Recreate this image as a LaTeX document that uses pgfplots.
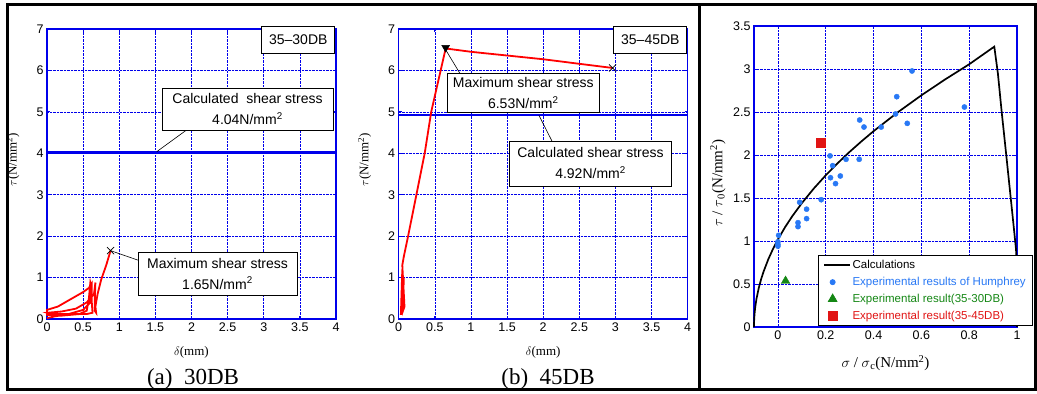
\documentclass[border=0pt]{standalone}
\usepackage{pgfplots}
\pgfplotsset{compat=1.18}
\usepackage{fontspec}
\setmainfont{Liberation Serif}
\newfontfamily\arial{Liberation Sans}
\definecolor{mblue}{RGB}{0,0,235}
\definecolor{hblue}{RGB}{40,120,245}
\definecolor{hgreen}{RGB}{20,135,20}
\definecolor{hred}{RGB}{225,20,20}
\pgfplotsset{
  mystyle/.style={
    scale only axis, anchor=south west,
    axis line style={mblue, line width=1.1pt},
    tick style={mblue, line width=0.8pt},
    major tick length=3pt,
    grid=major,
    grid style={mblue, densely dotted, line width=0.6pt},
    tick label style={font=\arial\fontsize{12.5}{12.5}\selectfont, text=black},
    /pgf/number format/assume math mode=true,
    clip=false,
  },
  longline/.style={legend image code/.code={\draw[##1] (0cm,0cm) -- (0.9cm,0cm);}},
}
\tikzset{
  boxnode/.style={draw=black, fill=white, line width=0.7pt, align=center, font=\arial\fontsize{14}{21}\selectfont, inner sep=1pt},
}
\begin{document}
\begin{tikzpicture}
\path (0pt,0pt) rectangle (1037pt,392pt);
% ---------------- (a) 30DB ----------------
\begin{axis}[mystyle, at={(47pt,73pt)}, width=289pt, height=290pt,
  xmin=0, xmax=4, ymin=0, ymax=7,
  xtick={0,0.5,1,1.5,2,2.5,3,3.5,4}, ytick={0,1,2,3,4,5,6,7},
  xlabel={$\delta$(mm)}, ylabel={$\tau$(N/mm\textsuperscript{2})},
  x label style={at={(axis description cs:0.5,-0.114)}, anchor=center, font=\fontsize{13}{13}\selectfont},
  y label style={at={(axis description cs:-0.118,0.55)}, anchor=center, font=\fontsize{13}{13}\selectfont},
]
\addplot[mblue, line width=2.2pt] coordinates {(0,4.02) (4,4.02)};
\addplot[red, line width=1.8pt] coordinates {
(0,0.02) (0.1,0.06) (0.3,0.12) (0.5,0.22) (0.6,0.4) (0.62,0.75) (0.6,0.88) (0.58,0.5) (0.55,0.2) (0.45,0.12) (0.2,0.08) (0,0.1)
(0,0.22) (0.15,0.3) (0.35,0.5) (0.5,0.65) (0.58,0.75) (0.62,0.86) (0.62,0.4) (0.63,0.15) (0.55,0.12) (0.3,0.12) (0.05,0.12) (0,0.15)
(0.2,0.18) (0.4,0.25) (0.55,0.4) (0.65,0.6) (0.67,0.88) (0.66,0.4) (0.66,0.2) (0.68,0.15) (0.67,0.3) (0.7,0.6) (0.75,0.95) (0.82,1.3) (0.88,1.65)};
\addplot[only marks, mark=x, mark size=5pt, black, mark options={line width=0.7pt}] coordinates {(0.88,1.65)};
\draw[black, line width=0.6pt] (axis cs:1.52,4.04) -- (axis cs:1.93,4.56);
\draw[black, line width=0.6pt] (axis cs:0.88,1.65) -- (axis cs:1.26,1.42);
\node[boxnode, minimum width=73pt, minimum height=27pt] at (axis cs:3.478,6.75) {35\textendash30DB};
\node[boxnode, minimum width=171pt, minimum height=42pt] at (axis cs:2.775,5.07) {Calculated\ \ shear stress\\4.04N/mm\textsuperscript{2}};
\node[boxnode, minimum width=159pt, minimum height=43pt] at (axis cs:2.36,1.098) {Maximum shear stress\\1.65N/mm\textsuperscript{2}};
\end{axis}
% ---------------- (b) 45DB ----------------
\begin{axis}[mystyle, at={(398.7pt,73pt)}, width=289pt, height=290pt,
  xmin=0, xmax=4, ymin=0, ymax=7,
  xtick={0,0.5,1,1.5,2,2.5,3,3.5,4}, ytick={0,1,2,3,4,5,6,7},
  xlabel={$\delta$(mm)}, ylabel={$\tau$(N/mm\textsuperscript{2})},
  x label style={at={(axis description cs:0.5,-0.114)}, anchor=center, font=\fontsize{13}{13}\selectfont},
  y label style={at={(axis description cs:-0.118,0.55)}, anchor=center, font=\fontsize{13}{13}\selectfont},
]
\addplot[mblue, line width=2.2pt] coordinates {(0,4.92) (4,4.92)};
\addplot[red, line width=1.8pt] coordinates {
(0.03,0.1) (0.05,1.2) (0.04,0.3) (0.07,1.0) (0.06,0.2) (0.08,0.3) (0.05,1.3) (0.07,1.5) (0.13,2.0) (0.36,4.0) (0.45,5.0) (0.65,6.53)
(1.0,6.45) (1.22,6.41) (1.5,6.36) (2.0,6.27) (2.5,6.16) (2.96,6.06)};
\addplot[only marks, mark=triangle*, mark size=4.5pt, black, mark options={rotate=180}] coordinates {(0.65,6.55)};
\addplot[only marks, mark=x, mark size=5pt, black, mark options={line width=0.7pt}] coordinates {(2.96,6.06)};
\draw[black, line width=0.6pt] (axis cs:0.65,6.5) -- (axis cs:0.85,5.92);
\draw[black, line width=0.6pt] (axis cs:1.94,4.92) -- (axis cs:2.12,4.30);
\node[boxnode, minimum width=73pt, minimum height=27pt] at (axis cs:3.483,6.75) {35\textendash45DB};
\node[boxnode, minimum width=152pt, minimum height=39pt] at (axis cs:1.725,5.447) {Maximum shear stress\\6.53N/mm\textsuperscript{2}};
\node[boxnode, minimum width=162pt, minimum height=45pt] at (axis cs:2.655,3.757) {Calculated shear stress\\4.92N/mm\textsuperscript{2}};
\end{axis}
% ---------------- right panel ----------------
\begin{axis}[mystyle, at={(754pt,65pt)}, width=263pt, height=301pt,
  xmin=-0.1, xmax=1, ymin=0, ymax=3.5,
  xtick={0,0.2,0.4,0.6,0.8,1}, ytick={0,0.5,1,1.5,2,2.5,3,3.5},
  xlabel={$\sigma$ / $\sigma$\textsubscript{c}(N/mm\textsuperscript{2})},
  ylabel={$\tau$ / $\tau$\textsubscript{0}(N/mm\textsuperscript{2})},
  x label style={at={(axis description cs:0.5,-0.12)}, anchor=center, font=\fontsize{15}{15}\selectfont},
  y label style={at={(axis description cs:-0.137,0.478)}, anchor=center, font=\fontsize{15}{15}\selectfont},
  legend style={at={(axis description cs:0.243,0.003)}, anchor=south west, draw=black, fill=white, line width=0.7pt,
     font=\arial\fontsize{11.5}{13}\selectfont, row sep=3pt, inner xsep=5pt, inner ysep=3pt},
  legend cell align=left,
]
\addplot[black, line width=1.7pt, longline] coordinates {
(-0.1,0) (-0.0995,0.072) (-0.098,0.144) (-0.095,0.228) (-0.09,0.322) (-0.08,0.455) (-0.07,0.558) (-0.06,0.644) (-0.04,0.789) (-0.02,0.911)
(0,1.018) (0.03,1.161) (0.06,1.288) (0.1,1.44) (0.15,1.61) (0.2,1.764) (0.25,1.905) (0.3,2.037) (0.35,2.16) (0.4,2.277) (0.5,2.494)
(0.6,2.694) (0.7,2.88) (0.8,3.055) (0.905,3.26) (0.92,2.95) (0.936,2.5) (0.955,2.0) (0.97,1.6) (0.985,1.2) (0.996,0.9) (1.0,0.6) (1.0,0)};
\addlegendentry{Calculations}
\addplot[only marks, mark=*, mark size=2.6pt, hblue] coordinates {
(0.003,1.066) (0,0.99) (0,0.94) (0,0.96) (0.084,1.213) (0.084,1.167) (0.091,1.45) (0.12,1.37) (0.12,1.26) (0.181,1.48)
(0.218,1.99) (0.229,1.876) (0.22,1.736) (0.241,1.667) (0.261,1.756) (0.285,1.95) (0.34,1.95) (0.342,2.407) (0.36,2.325)
(0.432,2.325) (0.492,2.477) (0.497,2.678) (0.541,2.368) (0.561,2.977) (0.78,2.558)};
\addlegendentry{\textcolor{hblue}{Experimental results of Humphrey}}
\addplot[only marks, mark=triangle*, mark size=5pt, hgreen] coordinates {(0.032,0.535)};
\addlegendentry{\textcolor{hgreen}{Experimental result(35-30DB)}}
\addplot[only marks, mark=square*, mark size=4.5pt, hred] coordinates {(0.181,2.143)};
\addlegendentry{\textcolor{hred}{Experimental result(35-45DB)}}
\end{axis}
% captions and frame
\node[anchor=base, font=\fontsize{23}{23}\selectfont] at (193pt,7pt) {(a)\ \ 30DB};
\node[anchor=base, font=\fontsize{23}{23}\selectfont] at (548pt,7pt) {(b)\ \ 45DB};
\draw[black, line width=3pt] (7.5pt,2pt) rectangle (1035pt,387pt);
\draw[black, line width=3pt] (699pt,2pt) -- (699pt,387pt);
\end{tikzpicture}
\end{document}
